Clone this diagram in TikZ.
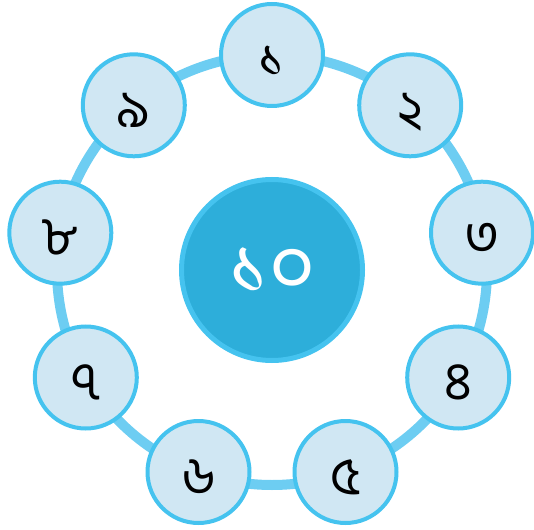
\documentclass[tikz,border=0pt]{standalone}
\usepackage{fontspec}
\newfontfamily\bnfont[Script=Bengali]{Hind Siliguri}
\definecolor{ringblue}{HTML}{6DCDF2}
\definecolor{edgeblue}{HTML}{45C3EF}
\definecolor{paleblue}{HTML}{D0E7F3}
\definecolor{deepblue}{HTML}{2DAEDA}
\tikzset{
  digit/.style={circle, draw=edgeblue, line width=3pt, fill=paleblue,
    minimum size=76.5pt, inner sep=0pt, text height=33pt, text depth=0pt,
    font=\bnfont\fontsize{40}{40}\selectfont},
  total/.style={circle, draw=edgeblue, line width=3.75pt, fill=deepblue,
    minimum size=135.75pt, inner sep=0pt, text=white, text height=36pt, text depth=0pt,
    font=\bnfont\fontsize{60}{60}\selectfont}
}
\begin{document}
\begin{tikzpicture}[x=0.75pt,y=-0.75pt]
\useasboundingbox (0,0) rectangle (534,530);
\coordinate (C) at (272,270);

\draw[ringblue, line width=7.5pt] (C) circle[radius=161.25pt];

\node[total] (ten) at (C) {১০};

\node[digit] (one) at (272,55) {১};
\node[digit] (two) at (410.2,105.3) {২};
\node[digit] (three) at (482,232.7) {৩};
\node[digit] (four) at (458.2,377.5) {৪};
\node[digit] (five) at (345.5,472) {৫};
\node[digit] (six) at (198.5,472) {৬};
\node[digit] (seven) at (85.8,377.5) {৭};
\node[digit] (eight) at (60.3,232.7) {৮};
\node[digit] (nine) at (133.8,105.3) {৯};
\end{tikzpicture}
\end{document}
